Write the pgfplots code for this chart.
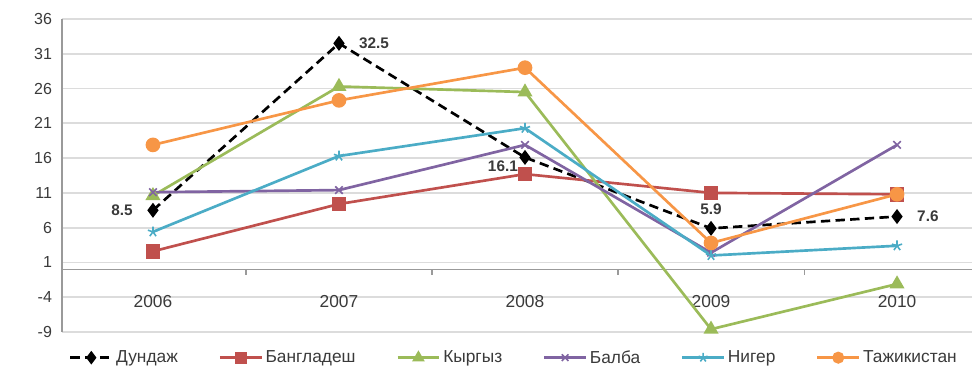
\documentclass[border=0pt]{standalone}
\usepackage{fontspec}
\setmainfont{Liberation Sans}
\usepackage{pgfplots}
\pgfplotsset{compat=1.18}

\definecolor{cBlack}{HTML}{000000}
\definecolor{cRed}{HTML}{C0504D}
\definecolor{cGreen}{HTML}{9BBB59}
\definecolor{cPurple}{HTML}{8064A2}
\definecolor{cCyan}{HTML}{4BACC6}
\definecolor{cOrange}{HTML}{F79646}
\definecolor{cGrid}{HTML}{DCDCDC}
\definecolor{cAxis}{HTML}{9A9A9A}
\definecolor{cText}{HTML}{3A3A3A}

\begin{document}
\begin{tikzpicture}
\begin{axis}[
  at={(46.5pt,29.25pt)}, anchor=south west,
  scale only axis, width=682.5pt, height=234.75pt,
  xmin=-0.489, xmax=4.403, ymin=-9, ymax=36,
  axis x line*=middle, axis y line*=left,
  axis line style={-, draw=cAxis, line width=1.1pt},
  ytick={-9,-4,...,36},
  xtick={0,1,2,3,4},
  xticklabels={2006,2007,2008,2009,2010},
  major tick length=0pt,
  extra x ticks={0.5,1.5,2.5,3.5},
  extra x tick labels={},
  extra x tick style={major tick length=4pt, tick align=outside, tick style={draw=cAxis, line width=0.8pt}, grid=none},
  ymajorgrids,
  grid style={draw=cGrid, line width=1.3pt},
  xticklabel style={font=\fontsize{13}{15}\selectfont, text=cText, yshift=-16pt},
  yticklabel style={font=\fontsize{12}{14}\selectfont, text=cText, xshift=-4pt},
  /pgf/number format/assume math mode=true,
  every axis plot/.append style={line width=2pt},
  legend columns=6,
  legend style={draw=none, fill=none, at={(0.497,-0.082)}, anchor=center,
    font=\fontsize{13}{15}\selectfont, text=cText,
    /tikz/every even column/.append style={column sep=28.5pt},
    inner sep=0pt},
  legend image code/.code={
    \draw[mark repeat=2, mark phase=2, mark size=3.5pt] plot coordinates {(0cm,0cm) (0.55cm,0cm) (1.1cm,0cm)};},
  clip=false,
]
% national and average growth rates by year
\addplot[cBlack, dashed, dash pattern=on 7pt off 4pt, mark=diamond*, mark size=4pt,
  mark options={solid, fill=cBlack}]
  coordinates {(0,8.5) (1,32.5) (2,16.1) (3,5.9) (4,7.6)};
\addlegendentry{Дундаж}
\addplot[cRed, mark=square*, mark size=4.5pt, mark options={fill=cRed}]
  coordinates {(0,2.6) (1,9.4) (2,13.7) (3,11.0) (4,10.8)};
\addlegendentry{Бангладеш}
\addplot[cGreen, mark=triangle*, mark size=4.5pt, mark options={fill=cGreen}]
  coordinates {(0,10.6) (1,26.3) (2,25.5) (3,-8.6) (4,-2.1)};
\addlegendentry{Кыргыз}
\addplot[cPurple, mark=x, mark size=4pt, mark options={line width=1.2pt}]
  coordinates {(0,11.1) (1,11.4) (2,17.9) (3,2.4) (4,17.9)};
\addlegendentry{Балба}
\addplot[cCyan, mark=star, mark size=4pt, mark options={line width=1.2pt}]
  coordinates {(0,5.4) (1,16.3) (2,20.3) (3,2.0) (4,3.4)};
\addlegendentry{Нигер}
\addplot[cOrange, mark=*, mark size=4.5pt, mark options={fill=cOrange}]
  coordinates {(0,17.9) (1,24.3) (2,29.0) (3,3.8) (4,10.8)};
\addlegendentry{Тажикистан}

% value labels on the average series
\begin{scope}[every node/.style={font=\bfseries\fontsize{11.5}{13}\selectfont, text=cText, inner sep=1pt}]
\node[anchor=east] at (axis cs:-0.1,8.5) {8.5};
\node[anchor=west] at (axis cs:1.1,32.5) {32.5};
\node[anchor=east] at (axis cs:-0.03+2,14.8) {16.1};
\node[anchor=south] at (axis cs:3,7.6) {5.9};
\node[anchor=west] at (axis cs:4.1,7.6) {7.6};
\end{scope}
\end{axis}
\pgfresetboundingbox
\path[use as bounding box] (0,0) rectangle (729pt,278.25pt);
\end{tikzpicture}
\end{document}
